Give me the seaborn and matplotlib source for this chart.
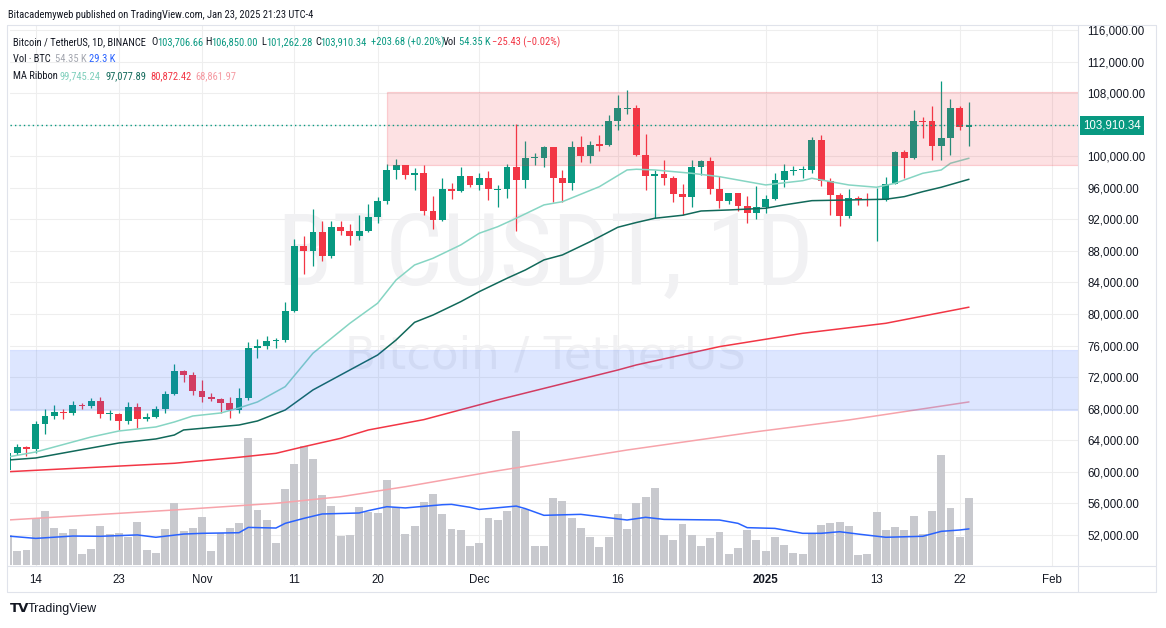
import numpy as np
import pandas as pd
import matplotlib
matplotlib.use("Agg")
import matplotlib.pyplot as plt
import seaborn as sns
from matplotlib import font_manager, transforms
from matplotlib.patches import Rectangle
from matplotlib.lines import Line2D

# ---------------- data ----------------
dates = pd.date_range("2024-10-11", "2025-01-23", freq="D")

opens = [60272, 62445, 63193, 62851, 66047, 67041, 67612, 67399, 68418, 68362,
         69001, 67367, 67380, 66432, 68161, 66642, 67014, 67929, 69907, 72720,
         72339, 70215, 69482, 69289, 68742, 67811, 69360, 75640, 75904, 76540,
         76678, 80370, 88647, 87952, 90375, 87325, 91032, 90586, 89855, 90465,
         92310, 94286, 98317, 98892, 97672, 97900, 93010, 91965, 95863, 95643,
         97460, 96407, 97185, 95840, 95849, 98587, 96945, 99740, 99831, 101109,
         97276, 96593, 101125, 100004, 101424, 101420, 104463, 106058, 106133, 100204,
         97461, 97805, 97291, 95187, 94881, 98663, 99430, 95792, 94299, 95300,
         93738, 92792, 93576, 94592, 96984, 98174, 98236, 98314, 102078, 96922,
         95043, 92484, 94701, 94566, 94488, 94516, 96534, 100504, 99756, 104462,
         104409, 101335, 102260, 106144, 103706.66]
highs = [63417, 63480, 63285, 66500, 67950, 68425, 67939, 68969, 68668, 69400,
         69500, 67836, 67400, 68850, 68770, 67450, 68350, 70270, 73620, 72961,
         72700, 71632, 70000, 69389, 69480, 70577, 76400, 76850, 77199, 76932,
         81500, 89530, 89940, 93265, 91790, 91850, 91779, 91449, 92594, 94002,
         94831, 98988, 99588, 98950, 98564, 98871, 94973, 97208, 96650, 98693,
         97463, 97836, 98150, 96305, 99000, 104088, 101898, 100439, 101351, 101215,
         98270, 101888, 102540, 101895, 102650, 105250, 107793, 108353, 106524, 102800,
         98233, 99540, 97448, 96538, 99487, 99569, 99963, 97544, 95300, 95300,
         95000, 96250, 95150, 97839, 98976, 98734, 98813, 102482, 102724, 97259,
         95350, 95837, 94977, 95400, 95940, 97371, 100681, 100781, 105865, 104989,
         106314, 109588, 107240, 106394, 106850.00]
lows = [60050, 62200, 62050, 62450, 64800, 66750, 66666, 67177, 68020, 68100,
        66835, 66571, 65260, 66034, 65520, 66435, 66800, 67500, 69730, 71436,
        69685, 68820, 69020, 67478, 66800, 67450, 69060, 74416, 75549, 75750,
        76492, 80216, 85072, 86127, 86668, 87073, 90057, 88722, 89376, 90400,
        91500, 94000, 97122, 97136, 95734, 92600, 90791, 91792, 94610, 95407,
        96092, 95693, 94395, 93578, 94660, 90500, 95981, 98844, 98657, 94150,
        94256, 95658, 99311, 99205, 100609, 101237, 103333, 105321, 100000, 95700,
        92232, 96398, 94250, 92520, 93575, 97632, 95200, 93500, 94000, 93000,
        91500, 92000, 92743, 94392, 96100, 97562, 97291, 97926, 96181, 92500,
        91200, 92206, 93840, 93712, 89256, 94322, 96500, 97256, 99700, 102278,
        99518, 99550, 100119, 103339, 101262.28]
closes = [62445, 63193, 62851, 66047, 67041, 67612, 67399, 68418, 68362, 69001,
          67367, 67380, 66432, 68161, 66642, 67014, 67929, 69907, 72720, 72339,
          70215, 69482, 69289, 68742, 67811, 69360, 75640, 75904, 76540, 76678,
          80370, 88647, 87952, 90375, 87325, 91032, 90586, 89855, 90465, 92310,
          94286, 98317, 98892, 97672, 97900, 93010, 91965, 95863, 95643, 97460,
          96407, 97185, 95840, 95849, 98587, 96945, 99740, 99831, 101109, 97276,
          96593, 101125, 100004, 101424, 101420, 104463, 106058, 106133, 100204, 97461,
          97805, 97291, 95187, 94881, 98663, 99430, 95792, 94299, 95300, 93738,
          92792, 93576, 94592, 96984, 98174, 98236, 98314, 102078, 96922, 95043,
          92484, 94701, 94566, 94488, 94516, 96534, 100504, 99756, 104462, 104409,
          101335, 102260, 106144, 103706.66, 103910.34]
volumes_k = [24.0, 11.4, 12.2, 38.1, 44.1, 30.0, 26.0, 29.2, 8.9, 13.0,
             31.6, 25.1, 26.0, 23.0, 34.9, 12.2, 9.7, 29.2, 50.3, 27.6,
             30.0, 38.9, 11.4, 25.7, 30.0, 34.1, 103.0, 44.6, 36.5, 17.8,
             61.6, 81.9, 96.5, 86.0, 56.8, 47.8, 23.5, 24.3, 47.0, 43.0,
             42.2, 68.9, 47.0, 25.1, 31.6, 51.1, 57.6, 41.4, 29.2, 28.4,
             15.4, 17.8, 38.1, 36.5, 43.8, 108.7, 45.4, 15.4, 15.4, 54.3,
             51.9, 38.1, 30.0, 22.7, 14.6, 22.7, 41.4, 29.2, 50.3, 55.1,
             62.4, 24.3, 20.3, 33.3, 24.3, 15.4, 21.9, 26.8, 8.9, 13.8,
             28.4, 20.3, 11.4, 22.7, 16.2, 9.7, 8.9, 25.1, 32.4, 34.1,
             34.9, 31.6, 8.1, 8.9, 43.0, 28.4, 30.8, 28.4, 39.7, 25.1,
             43.8, 89.2, 46.2, 22.7, 54.35]

# MA ribbon lines, values at sample dates
ma1_dates = ["2024-10-11", "2024-10-14", "2024-10-20", "2024-10-23", "2024-10-27", "2024-10-29",
             "2024-10-31", "2024-11-03", "2024-11-05", "2024-11-07", "2024-11-10", "2024-11-13",
             "2024-11-17", "2024-11-20", "2024-11-22", "2024-11-24", "2024-11-26", "2024-11-29",
             "2024-12-01", "2024-12-03", "2024-12-05", "2024-12-08", "2024-12-10", "2024-12-14",
             "2024-12-17", "2024-12-18", "2024-12-20", "2024-12-24", "2024-12-27", "2024-12-31",
             "2025-01-01", "2025-01-05", "2025-01-06", "2025-01-08", "2025-01-10", "2025-01-13",
             "2025-01-15", "2025-01-18", "2025-01-20", "2025-01-21", "2025-01-23"]
ma1_vals = [61890, 62520, 64420, 65180, 65690, 66320,
            67080, 67460, 68100, 68860, 70800, 75030,
            78830, 81370, 84320, 86220, 87070, 88760,
            90240, 91070, 92140, 93830, 94240, 96140,
            98260, 98350, 98260, 97840, 97410, 96570,
            96360, 96900, 97210, 96780, 96360, 96070,
            96570, 97840, 98260, 99110, 99745.24]
ma2_dates = ["2024-10-11", "2024-10-14", "2024-10-20", "2024-10-23", "2024-10-27", "2024-10-29",
             "2024-10-30", "2024-11-05", "2024-11-07", "2024-11-10", "2024-11-13", "2024-11-16",
             "2024-11-20", "2024-11-22", "2024-11-24", "2024-11-26", "2024-11-29", "2024-12-01",
             "2024-12-04", "2024-12-06", "2024-12-08", "2024-12-10", "2024-12-13", "2024-12-16",
             "2024-12-18", "2024-12-20", "2024-12-23", "2024-12-25", "2024-12-28", "2025-01-01",
             "2025-01-03", "2025-01-06", "2025-01-10", "2025-01-14", "2025-01-16", "2025-01-18",
             "2025-01-20", "2025-01-23"]
ma2_vals = [61500, 61760, 63030, 63660, 64170, 64670,
            65310, 65940, 66450, 67840, 70380, 72280,
            74810, 76710, 78950, 79880, 81570, 82840,
            84530, 85590, 86860, 87490, 89170, 91000,
            91600, 92140, 92520, 93060, 93190, 93410,
            93830, 94370, 94460, 94550, 94880, 95510,
            96070, 97077.89]
ma3_dates = ["2024-10-11", "2024-10-29", "2024-11-05", "2024-11-09", "2024-11-12", "2024-11-16",
             "2024-11-19", "2024-11-25", "2024-12-03", "2024-12-16", "2024-12-18", "2024-12-27",
             "2025-01-05", "2025-01-14", "2025-01-23"]
ma3_vals = [60020, 61090, 61850, 62350, 63190, 64250,
            65310, 66620, 69120, 72910, 73550, 75870,
            77560, 78830, 80872.42]
ma4_dates = ["2024-10-11", "2024-10-29", "2024-11-09", "2024-11-16", "2024-11-23", "2024-12-02",
             "2024-12-17", "2024-12-31", "2025-01-10", "2025-01-23"]
ma4_vals = [53900, 55170, 56020, 56850, 58120, 59950,
            62770, 65090, 66580, 68861.97]
volma_dates = ["2024-10-11", "2024-10-14", "2024-10-18", "2024-10-21", "2024-10-25", "2024-10-27",
               "2024-10-30", "2024-11-01", "2024-11-05", "2024-11-06", "2024-11-09", "2024-11-10",
               "2024-11-12", "2024-11-14", "2024-11-18", "2024-11-19", "2024-11-21", "2024-11-23",
               "2024-11-27", "2024-11-28", "2024-11-30", "2024-12-01", "2024-12-05", "2024-12-06",
               "2024-12-08", "2024-12-12", "2024-12-17", "2024-12-19", "2024-12-21", "2024-12-27",
               "2024-12-29", "2024-12-30", "2025-01-02", "2025-01-05", "2025-01-07", "2025-01-09",
               "2025-01-11", "2025-01-14", "2025-01-18", "2025-01-20", "2025-01-22", "2025-01-23"]
volma_vals = [23.5, 21.6, 23.5, 23.3, 24.4, 22.5,
              25.1, 25.7, 26.2, 30.5, 30.0, 33.8,
              37.8, 41.4, 42.2, 44.1, 47.3, 46.3,
              48.9, 49.2, 46.8, 45.1, 47.8, 45.7,
              40.3, 41.1, 36.5, 38.7, 37.0, 36.5,
              33.8, 30.3, 29.7, 25.7, 25.7, 27.0,
              25.1, 22.5, 23.3, 27.3, 28.4, 29.3]

tick_dates = ["2024-10-14", "2024-10-23", "2024-11-01", "2024-11-11", "2024-11-20", "2024-12-01",
              "2024-12-16", "2025-01-01", "2025-01-13", "2025-01-22", "2025-02-01"]
tick_labels = ["14", "23", "Nov", "11", "20", "Dec", "16", "2025", "13", "22", "Feb"]
price_ticks = [52000, 56000, 60000, 64000, 68000, 72000, 76000, 80000, 84000,
               88000, 92000, 96000, 100000, 104000, 108000, 112000, 116000]

resist_zone = (98950, 108100)
resist_start = "2024-11-21"
support_zone = (67840, 75450)
last_price = 103910.34

# ---------------- style ----------------
sns.set_theme(style="white")
avail = {f.name for f in font_manager.fontManager.ttflist}
BASE = "Liberation Sans" if "Liberation Sans" in avail else "DejaVu Sans"
NARROW = next((n for n in ["Liberation Sans Narrow", "DejaVu Sans Condensed", "Roboto Condensed",
                           "Open Sans Condensed"] if n in avail), None)
plt.rcParams["font.family"] = [BASE, "DejaVu Sans"]

GREEN = "#089981"
RED = "#f23645"
TXT = "#131722"
GRID = "#eeeeee"
BORDER = "#e0e3eb"

W, H = 1166, 628
fig = plt.figure(figsize=(W / 100, H / 100), dpi=100)
fig.patch.set_facecolor("white")


def fx(px):
    return px / W


def fy(py):
    return 1 - py / H


L, R, T, B = 10, 1078, 25, 566
rect = [fx(L), fy(B), fx(R) - fx(L), fy(T) - fy(B)]
axv = fig.add_axes(rect, zorder=0)
ax = fig.add_axes(rect, zorder=1)
ax.patch.set_visible(False)

x = np.arange(len(dates))
start = dates[0]


def pos(d):
    return (pd.Timestamp(d) - start).days


XLIM = (0.216, 115.8)
YLIM = (48071, 116631)
ax.set_xlim(*XLIM)
ax.set_ylim(*YLIM)

# ---------------- bottom axes: grid, watermark, volume ----------------
blend = transforms.blended_transform_factory(axv.transAxes, ax.transData)
for p in price_ticks:
    axv.add_line(Line2D([0, 1], [p, p], transform=blend, color=GRID, lw=0.8, zorder=0))
for d in tick_dates:
    axv.axvline(pos(d), color=GRID, lw=0.8, zorder=0)

if NARROW:
    axv.text(fx(545), fy(285), "BTCUSDT, 1D", transform=fig.transFigure, ha="center",
             va="baseline", fontsize=73, color="#f1f1f3", family=NARROW, zorder=1)
else:
    axv.text(fx(545), fy(287), "BTCUSDT, 1D", transform=fig.transFigure, ha="center",
             va="baseline", fontsize=61, color="#f1f1f3", zorder=1)
axv.text(fx(545), fy(368), "Bitcoin / TetherUS", transform=fig.transFigure, ha="center",
         va="baseline", fontsize=32.5, color="#f1f1f3", family="DejaVu Sans", zorder=1)

vol_df = pd.DataFrame({"x": x, "vol": volumes_k})
sns.barplot(data=vol_df, x="x", y="vol", native_scale=True, color="#c8c9ce", saturation=1,
            width=0.86, linewidth=0, errorbar=None, ax=axv, zorder=2)
sns.lineplot(x=[pos(d) for d in volma_dates], y=volma_vals, color="#2962ff", lw=1.1,
             ax=axv, zorder=3)
axv.set_xlim(*XLIM)
axv.set_ylim(-0.8, 438)
axv.set_xticks([])
axv.set_yticks([])
axv.set_xlabel("")
axv.set_ylabel("")
for s in axv.spines.values():
    s.set_visible(False)

# ---------------- main axes: candles, MAs, zones ----------------
o = np.array(opens, float)
h = np.array(highs, float)
l = np.array(lows, float)
c = np.array(closes, float)
up = c >= o
cols = np.where(up, GREEN, RED)
ax.vlines(x, l, h, colors=cols, lw=0.9, zorder=3)
body = np.abs(c - o)
small = body < 130
bottom = np.where(small, (o + c) / 2 - 65, np.minimum(o, c))
height = np.where(small, 130, body)
ax.bar(x, height, bottom=bottom, width=0.74, color=cols, linewidth=0, zorder=3)

for dts, vals, col in [(ma4_dates, ma4_vals, "#f7a3aa"),
                       (ma3_dates, ma3_vals, "#f23645"),
                       (ma2_dates, ma2_vals, "#11695a"),
                       (ma1_dates, ma1_vals, "#86d5c3")]:
    sns.lineplot(x=[pos(d) for d in dts], y=vals, color=col, lw=1.1, ax=ax, zorder=4)

ax.add_patch(Rectangle((pos(resist_start), resist_zone[0]), 200, resist_zone[1] - resist_zone[0],
                       facecolor=(242 / 255, 54 / 255, 69 / 255, 0.15),
                       edgecolor=(242 / 255, 54 / 255, 69 / 255, 0.2), lw=0.9, zorder=5))
ax.add_patch(Rectangle((-20, support_zone[0]), 200, support_zone[1] - support_zone[0],
                       facecolor=(41 / 255, 98 / 255, 255 / 255, 0.155),
                       edgecolor=(41 / 255, 98 / 255, 255 / 255, 0.12), lw=0.8, zorder=5))

ax.axhline(last_price, color=GREEN, lw=1.0, ls=(0, (1, 2.2)), zorder=6)

ax.set_xlim(*XLIM)
ax.set_ylim(*YLIM)
ax.set_xlabel("")
ax.set_ylabel("")
for s in ax.spines.values():
    s.set_visible(False)

# the 104,000 label sits under the last-price tag, as in the reference
ax.yaxis.tick_right()
ax.set_yticks(price_ticks)
ax.set_yticklabels(["" if v == 104000 else f"{v:,.2f}" for v in price_ticks])
ax.tick_params(axis="y", length=0, pad=6.5, labelsize=8.3, labelcolor=TXT)
ax.set_xticks([pos(d) for d in tick_dates])
ax.set_xticklabels(tick_labels)
ax.tick_params(axis="x", length=0, pad=5.5, labelsize=8.3, labelcolor=TXT)
for lbl in ax.get_xticklabels():
    if lbl.get_text() == "2025":
        lbl.set_fontweight("bold")

tb = transforms.blended_transform_factory(ax.transAxes, ax.transData)
ax.text((1083 - L) / (R - L), last_price, f"{last_price:,.2f}", transform=tb, ha="left",
        va="center", fontsize=8.3, color="white", zorder=10, clip_on=False,
        bbox=dict(boxstyle="square,pad=0.3", fc=GREEN, ec="none"))

# ---------------- frame ----------------
for xs, ys in [([7, 1156], [25, 25]), ([7, 1156], [592, 592]), ([7, 7], [25, 592]),
               ([1156, 1156], [25, 592]), ([7, 1156], [566, 566]), ([1078, 1078], [25, 592])]:
    fig.add_artist(Line2D([fx(v) for v in xs], [fy(v) for v in ys], transform=fig.transFigure,
                          color=BORDER, lw=0.8, zorder=5))

# ---------------- header / legend texts ----------------
if NARROW:
    HF, HS = NARROW, 7.6
else:
    HF, HS = BASE, 6.1


def t(px, py, s, col=TXT, **kw):
    fig.text(fx(px), fy(py), s, color=col, ha="left", va="center", fontsize=kw.pop("fs", HS),
             family=kw.pop("family", HF), **kw)


t(8, 15, "Bitacademyweb published on TradingView.com, Jan 23, 2025 21:23 UTC-4")
t(13, 42, "Bitcoin / TetherUS, 1D, BINANCE")
for lab, px_l, val, px_v in [("O", 151, "103,706.66", 157), ("H", 205, "106,850.00", 211),
                             ("L", 261, "101,262.28", 266), ("C", 315, "103,910.34", 320)]:
    t(px_l, 42, lab)
    t(px_v, 42, val, GREEN)
t(371, 42, "+203.68 (+0.20%)", GREEN)
t(443, 42, "Vol")
t(459, 42, "54.35 K", GREEN)
t(492, 42, "\u221225.43 (\u22120.02%)", RED)
t(13, 59, "Vol \u00b7 BTC")
t(55, 59, "54.35 K", "#a3a6af")
t(89, 59, "29.3 K", "#2962ff")
t(13, 76, "MA Ribbon")
t(60, 76, "99,745.24", "#7fcfbc")
t(105, 76, "97,077.89", "#11695a")
t(150, 76, "80,872.42", "#f23645")
t(195, 76, "68,861.97", "#f59aa2")

fig.text(fx(10), fy(609), "TV", color=TXT, ha="left", va="center", fontsize=9.5,
         fontweight="heavy", family="DejaVu Sans")
fig.text(fx(28), fy(609), "TradingView", color=TXT, ha="left", va="center", fontsize=9)

fig.savefig("out.png", dpi=100, facecolor="white")
